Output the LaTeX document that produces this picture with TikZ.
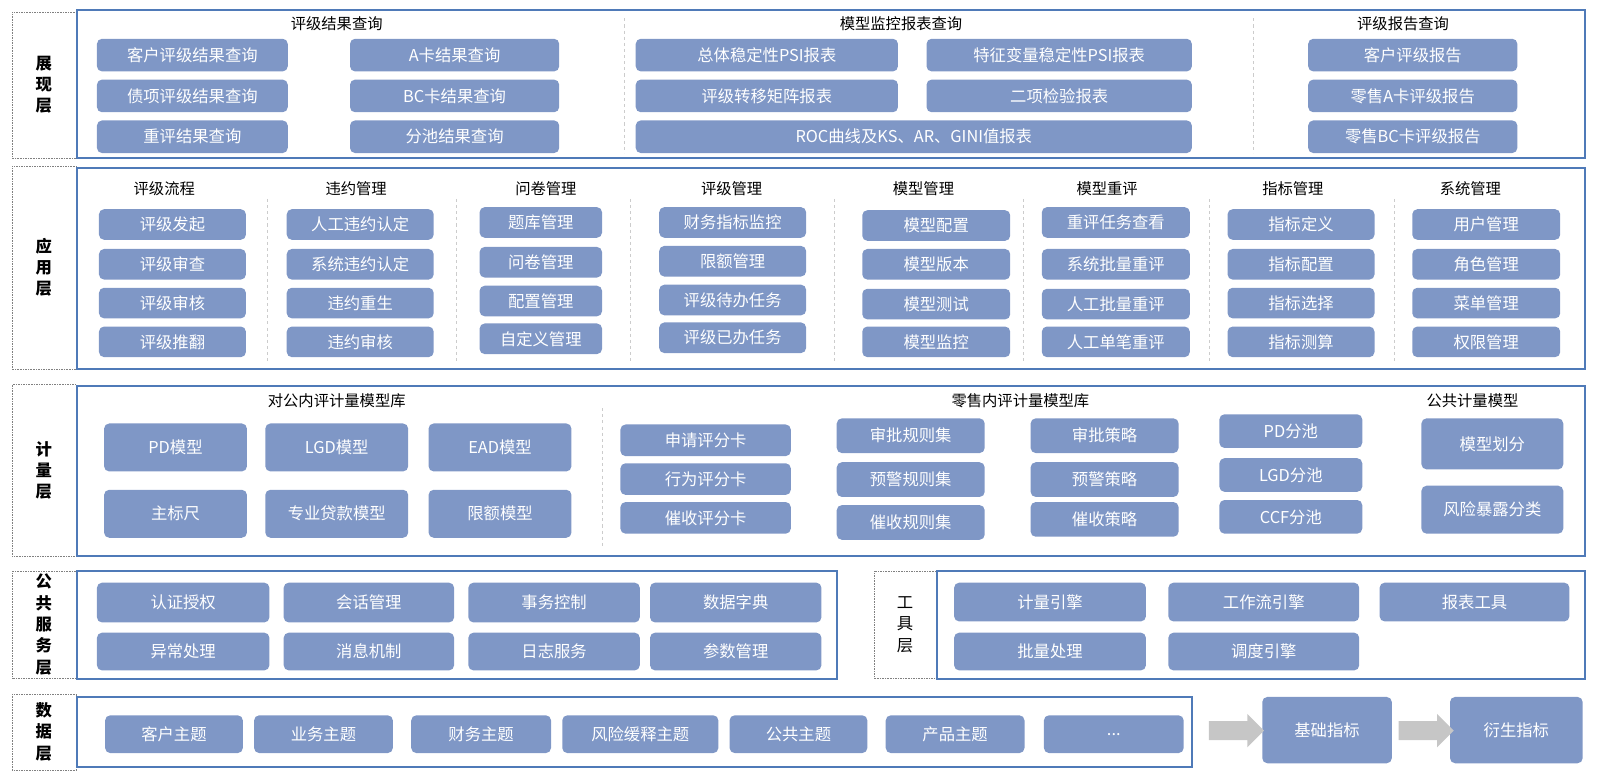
\documentclass[tikz,border=0pt]{standalone}
\usepackage{fontspec}
\setmainfont{Noto Sans CJK SC}
\usetikzlibrary{shapes.arrows}
\definecolor{boxblue}{RGB}{127,151,198}
\definecolor{framblue}{RGB}{79,122,184}
\tikzset{every picture/.style={line width=0.75pt}}
\tikzset{
  blk/.style={fill=boxblue, rounded corners=5pt, text=white, font=\fontsize{16}{18}\selectfont, inner sep=0pt},
  frame/.style={draw=framblue, line width=2pt},
  lab/.style={draw=gray, densely dotted, line width=0.6pt},
  head/.style={font=\fontsize{15}{17}\selectfont},
  sep/.style={draw=gray!40, dashed, line width=0.5pt},
  flow/.style={single arrow, fill=gray!45, minimum height=54pt, minimum width=32pt, single arrow head extend=7pt, inner sep=0pt}
}
% box from (x1,y1) to (x2,y2)
\newcommand{\bx}[6]{\node[blk, minimum width={(#4-#2)*1pt}, minimum height={(#5-#3)*1pt}] (#1) at ({(#2+#4)/2},{(#3+#5)/2}) {#6};}
\begin{document}
\begin{tikzpicture}[x=1pt,y=-1pt]
\useasboundingbox (0,0) rectangle (1568,765);

%layer labels
\draw[lab] (12,12) rectangle (75,155);
\node[align=center, font=\fontsize{16}{21}\selectfont\bfseries] (lzx) at (43,83) {展\\现\\层};
\draw[lab] (12,163) rectangle (75,362);
\node[align=center, font=\fontsize{16}{21}\selectfont\bfseries] (lyy) at (43,262) {应\\用\\层};
\draw[lab] (12,377) rectangle (75,545);
\node[align=center, font=\fontsize{16}{21}\selectfont\bfseries] (ljl) at (43,461) {计\\量\\层};
\draw[lab] (12,560) rectangle (75,665);
\node[align=center, font=\fontsize{16}{21}\selectfont\bfseries] (lgg) at (43,612) {公\\共\\服\\务\\层};
\draw[lab] (857,560) rectangle (918,665);
\node[align=center, font=\fontsize{16}{21}\selectfont] (lgj) at (887,612) {工\\具\\层};
\draw[lab] (12,680) rectangle (75,755);
\node[align=center, font=\fontsize{16}{21}\selectfont\bfseries] (lsj) at (43,717) {数\\据\\层};

%frames
\draw[frame] (75,10) rectangle (1553,155);
\draw[frame] (75,165) rectangle (1553,362);
\draw[frame] (75,378) rectangle (1553,545);
\draw[frame] (75,560) rectangle (820,665);
\draw[frame] (918,560) rectangle (1553,665);
\draw[frame] (75,683) rectangle (1168,752);

%separators
\foreach \sx in {612,1228} \draw[sep] (\sx,18) -- (\sx,150);
\foreach \sx in {262,447,618,818,1003,1185,1366} \draw[sep] (\sx,195) -- (\sx,355);
\draw[sep] (590,400) -- (590,535);

%presentation layer
\node[head] (h1) at (330,23) {评级结果查询};
\node[head] (h2) at (883,23) {模型监控报表查询};
\node[head] (h3) at (1375,23) {评级报告查询};
\bx{a1}{95}{38}{282}{70}{客户评级结果查询}
\bx{a2}{95}{78}{282}{110}{债项评级结果查询}
\bx{a3}{95}{118}{282}{150}{重评结果查询}
\bx{a4}{343}{38}{548}{70}{A卡结果查询}
\bx{a5}{343}{78}{548}{110}{BC卡结果查询}
\bx{a6}{343}{118}{548}{150}{分池结果查询}
\bx{m1}{623}{38}{880}{70}{总体稳定性PSI报表}
\bx{m2}{908}{38}{1168}{70}{特征变量稳定性PSI报表}
\bx{m3}{623}{78}{880}{110}{评级转移矩阵报表}
\bx{m4}{908}{78}{1168}{110}{二项检验报表}
\bx{m5}{623}{118}{1168}{150}{ROC曲线及KS、AR、GINI值报表}
\bx{r1}{1282}{38}{1487}{70}{客户评级报告}
\bx{r2}{1282}{78}{1487}{110}{零售A卡评级报告}
\bx{r3}{1282}{118}{1487}{150}{零售BC卡评级报告}

%application layer
\foreach \hx/\hname in {161/评级流程,349/违约管理,535/问卷管理,717/评级管理,905/模型管理,1085/模型重评,1267/指标管理,1441/系统管理}
  \node[head] at (\hx,185) {\hname};
\bx{p1}{97}{205}{241}{235}{评级发起}
\bx{p2}{97}{244}{241}{274}{评级审查}
\bx{p3}{97}{282}{241}{312}{评级审核}
\bx{p4}{97}{320}{241}{350}{评级推翻}
\bx{d1}{281}{205}{425}{235}{人工违约认定}
\bx{d2}{281}{244}{425}{274}{系统违约认定}
\bx{d3}{281}{282}{425}{312}{违约重生}
\bx{d4}{281}{320}{425}{350}{违约审核}
\bx{q1}{470}{203}{590}{233}{题库管理}
\bx{q2}{470}{242}{590}{272}{问卷管理}
\bx{q3}{470}{280}{590}{310}{配置管理}
\bx{q4}{470}{317}{590}{347}{自定义管理}
\bx{g1}{646}{203}{790}{233}{财务指标监控}
\bx{g2}{646}{241}{790}{271}{限额管理}
\bx{g3}{646}{279}{790}{309}{评级待办任务}
\bx{g4}{646}{316}{790}{346}{评级已办任务}
\bx{x1}{845}{206}{990}{236}{模型配置}
\bx{x2}{845}{244}{990}{274}{模型版本}
\bx{x3}{845}{283}{990}{313}{模型测试}
\bx{x4}{845}{320}{990}{350}{模型监控}
\bx{c1}{1021}{203}{1166}{233}{重评任务查看}
\bx{c2}{1021}{244}{1166}{274}{系统批量重评}
\bx{c3}{1021}{283}{1166}{313}{人工批量重评}
\bx{c4}{1021}{320}{1166}{350}{人工单笔重评}
\bx{z1}{1203}{205}{1347}{235}{指标定义}
\bx{z2}{1203}{244}{1347}{274}{指标配置}
\bx{z3}{1203}{282}{1347}{312}{指标选择}
\bx{z4}{1203}{320}{1347}{350}{指标测算}
\bx{s1}{1384}{205}{1529}{235}{用户管理}
\bx{s2}{1384}{244}{1529}{274}{角色管理}
\bx{s3}{1384}{282}{1529}{312}{菜单管理}
\bx{s4}{1384}{320}{1529}{350}{权限管理}

%measurement layer
\node[head] (h4) at (330,393) {对公内评计量模型库};
\node[head] (h5) at (1000,393) {零售内评计量模型库};
\node[head] (h6) at (1443,393) {公共计量模型};
\bx{k1}{102}{415}{242}{462}{PD模型}
\bx{k2}{260}{415}{400}{462}{LGD模型}
\bx{k3}{420}{415}{560}{462}{EAD模型}
\bx{k4}{102}{480}{242}{527}{主标尺}
\bx{k5}{260}{480}{400}{527}{专业贷款模型}
\bx{k6}{420}{480}{560}{527}{限额模型}
\bx{n1}{608}{416}{775}{447}{申请评分卡}
\bx{n2}{608}{454}{775}{485}{行为评分卡}
\bx{n3}{608}{492}{775}{523}{催收评分卡}
\bx{u1}{820}{410}{965}{444}{审批规则集}
\bx{u2}{820}{453}{965}{487}{预警规则集}
\bx{u3}{820}{495}{965}{529}{催收规则集}
\bx{v1}{1010}{410}{1155}{444}{审批策略}
\bx{v2}{1010}{453}{1155}{487}{预警策略}
\bx{v3}{1010}{492}{1155}{526}{催收策略}
\bx{w1}{1195}{406}{1335}{439}{PD分池}
\bx{w2}{1195}{449}{1335}{482}{LGD分池}
\bx{w3}{1195}{490}{1335}{523}{CCF分池}
\bx{y1}{1393}{410}{1532}{460}{模型划分}
\bx{y2}{1393}{476}{1532}{523}{风险暴露分类}

%public services layer
\bx{f1}{95}{571}{264}{610}{认证授权}
\bx{f2}{278}{571}{445}{610}{会话管理}
\bx{f3}{459}{571}{627}{610}{事务控制}
\bx{f4}{637}{571}{805}{610}{数据字典}
\bx{f5}{95}{620}{264}{657}{异常处理}
\bx{f6}{278}{620}{445}{657}{消息机制}
\bx{f7}{459}{620}{627}{657}{日志服务}
\bx{f8}{637}{620}{805}{657}{参数管理}

%tool layer
\bx{t1}{935}{571}{1123}{609}{计量引擎}
\bx{t2}{1145}{571}{1332}{609}{工作流引擎}
\bx{t3}{1352}{571}{1538}{609}{报表工具}
\bx{t4}{935}{620}{1123}{657}{批量处理}
\bx{t5}{1145}{620}{1332}{657}{调度引擎}

%data layer
\bx{e1}{103}{701}{238}{738}{客户主题}
\bx{e2}{249}{701}{385}{738}{业务主题}
\bx{e3}{403}{701}{540}{738}{财务主题}
\bx{e4}{551}{701}{704}{738}{风险缓释主题}
\bx{e5}{715}{701}{850}{738}{公共主题}
\bx{e6}{868}{701}{1004}{738}{产品主题}
\bx{e7}{1023}{701}{1160}{738}{...}
\bx{b1}{1237}{683}{1364}{748}{基础指标}
\bx{b2}{1421}{683}{1551}{748}{衍生指标}
\node[flow] (ar1) at (1207,716) {\rule{0pt}{18pt}};
\node[flow] (ar2) at (1393,716) {\rule{0pt}{18pt}};
\end{tikzpicture}
\end{document}
